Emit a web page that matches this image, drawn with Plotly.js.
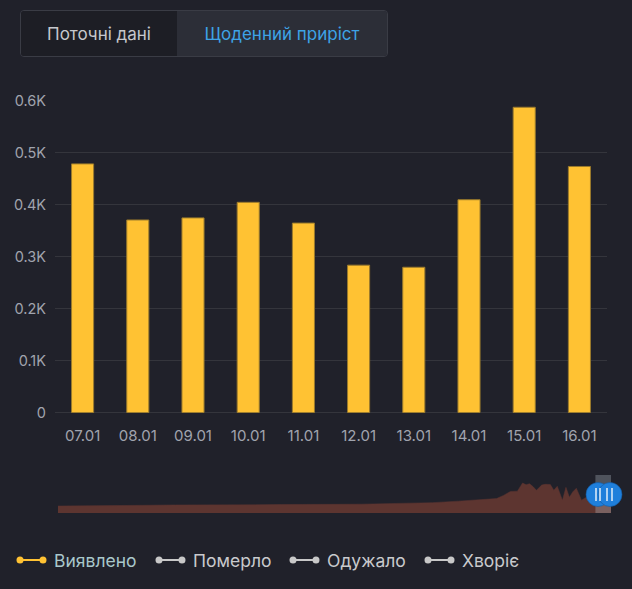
<!DOCTYPE html>
<html>
<head>
<meta charset="utf-8">
<script src="https://cdn.plot.ly/plotly-3.0.1.min.js"></script>
<style>
  html, body { margin:0; padding:0; background:#20212a; width:632px; height:589px; overflow:hidden; }
  #chart { position:absolute; left:0; top:0; width:632px; height:589px; }
  .tabs { position:absolute; left:20px; top:10px; width:366px; height:45px; border:1px solid #3a3c45; border-radius:4px; overflow:hidden; display:flex; font-family:Inter, sans-serif; font-size:17px; }
  .tab { display:flex; align-items:center; justify-content:center; height:100%; }
  .tab.cur { width:156px; background:#1d1e25; color:#c6c8cd; }
  .tab.daily { flex:1; background:#2c2e37; color:#3ea3e6; }
</style>
</head>
<body>
<div id="chart"></div>
<div class="tabs"><div class="tab cur">Поточні дані</div><div class="tab daily">Щоденний приріст</div></div>
<script>
// ---- data ----
const labels = ['07.01','08.01','09.01','10.01','11.01','12.01','13.01','14.01','15.01','16.01'];
const detected = [479, 371, 375, 405, 365, 284, 280, 410, 588, 474];
const yTickVals = [0, 100, 200, 300, 400, 500, 600];
const yTickText = ['0', '0.1K', '0.2K', '0.3K', '0.4K', '0.5K', '0.6K'];
const legendNames = ['Виявлено', 'Померло', 'Одужало', 'Хворіє'];
const year = '2021';
// overview (minimap) history before the shown window
const historyDates = ['2020-03-03','2020-03-20','2020-04-05','2020-04-25','2020-05-10','2020-05-25','2020-06-10','2020-06-25','2020-07-10','2020-07-25','2020-08-10','2020-08-25','2020-09-10','2020-09-25','2020-10-05','2020-10-20','2020-11-01','2020-11-11','2020-11-15','2020-11-19','2020-11-23','2020-11-26','2020-11-28','2020-11-30','2020-12-02','2020-12-04','2020-12-07','2020-12-09','2020-12-12','2020-12-14','2020-12-16','2020-12-19','2020-12-21','2020-12-23','2020-12-25','2020-12-27','2020-12-30','2021-01-02','2021-01-05'];
const historyValues = [0, 2, 8, 25, 35, 30, 45, 40, 50, 45, 55, 60, 85, 100, 110, 160, 200, 245, 350, 480, 490, 760, 700, 735, 640, 520, 690, 715, 710, 520, 650, 190, 615, 290, 470, 585, 190, 300, 430];

// ---- build ----
const W = 632, H = 589;
const px = x => x / W;
const py = y => 1 - y / H;
const font = 'Inter, sans-serif';
const yellow = '#ffc233';
const fillBrown = '#5d3530';

const windowDates = labels.map(l => year + '-' + l.slice(3, 5) + '-' + l.slice(0, 2));
const ovX = historyDates.concat(windowDates);
const ovY = historyValues.concat(detected);

const traces = [
  {
    type: 'bar', x: labels, y: detected, name: legendNames[0],
    marker: { color: yellow, line: { color: '#9a7a2c', width: 1 } },
    width: 0.4, xaxis: 'x', yaxis: 'y', showlegend: false, hoverinfo: 'none'
  },
  {
    type: 'scatter', mode: 'lines', x: ovX, y: ovY, fill: 'tozeroy',
    fillcolor: fillBrown, line: { color: fillBrown, width: 0.5 },
    xaxis: 'x2', yaxis: 'y2', showlegend: false, hoverinfo: 'none'
  }
];

const shapes = [
  // base band of the overview
  { type: 'rect', xref: 'x2', yref: 'y2', x0: ovX[0], x1: ovX[ovX.length - 1], y0: -231, y1: 0, fillcolor: fillBrown, line: { width: 0 }, layer: 'below' },
  // selection window
  { type: 'rect', xref: 'x2', yref: 'paper', x0: windowDates[0], x1: windowDates[windowDates.length - 1], y0: py(513), y1: py(475), fillcolor: 'rgba(190,200,210,0.3)', line: { width: 0 } }
];
// handles (paper coordinates so they are not clipped)
[598, 610].forEach(cx => {
  shapes.push({ type: 'circle', xref: 'paper', yref: 'paper', x0: px(cx - 12), x1: px(cx + 12), y0: py(506.5), y1: py(482.5), fillcolor: '#1f7fdb', line: { color: 'rgba(20,90,160,0.6)', width: 1 } });
});
[596, 600, 607, 612].forEach(mx => {
  shapes.push({ type: 'line', xref: 'paper', yref: 'paper', x0: px(mx), x1: px(mx), y0: py(501), y1: py(488), line: { color: 'rgba(255,255,255,0.65)', width: 2 } });
});

// custom legend
const legendItems = [
  { lx: 17, tx: 52, color: yellow, text: '#a9c8cb' },
  { lx: 156, tx: 191, color: '#c8c8c8', text: '#c9cacd' },
  { lx: 290, tx: 325, color: '#c8c8c8', text: '#c9cacd' },
  { lx: 425, tx: 460, color: '#c8c8c8', text: '#c9cacd' }
];
const annotations = [];
const legY = 560;
legendItems.forEach((it, i) => {
  shapes.push({ type: 'line', xref: 'paper', yref: 'paper', x0: px(it.lx + 3), x1: px(it.lx + 26), y0: py(legY), y1: py(legY), line: { color: it.color, width: 2 } });
  [it.lx + 3, it.lx + 26].forEach(cx => {
    shapes.push({ type: 'circle', xref: 'paper', yref: 'paper', x0: px(cx - 3.5), x1: px(cx + 3.5), y0: py(legY + 3.5), y1: py(legY - 3.5), fillcolor: it.color, line: { width: 0 } });
  });
  annotations.push({ xref: 'paper', yref: 'paper', x: px(it.tx), y: py(legY), xanchor: 'left', yanchor: 'middle', text: legendNames[i], showarrow: false, font: { family: font, size: 17.5, color: it.text } });
});

const layout = {
  width: W, height: H,
  margin: { l: 0, r: 0, t: 0, b: 0 },
  paper_bgcolor: '#20212a', plot_bgcolor: '#20212a',
  font: { family: font, color: '#a0a4ae' },
  bargap: 0.6,
  xaxis: {
    domain: [px(55), px(607)], type: 'category', showgrid: false, zeroline: false,
    showline: false, ticks: '', tickfont: { size: 15, color: '#a0a4ae' }, ticklabelstandoff: 12,
    fixedrange: true, anchor: 'y'
  },
  yaxis: {
    domain: [py(412.7), py(100.5)], range: [0, 601], tickvals: yTickVals, ticktext: yTickText,
    showgrid: true, gridcolor: '#34353c', gridwidth: 1, zeroline: true, zerolinecolor: '#34353c', zerolinewidth: 1,
    showline: false, ticks: '', tickfont: { size: 14.5, color: '#a0a4ae' }, ticklabelstandoff: 8,
    fixedrange: true, anchor: 'x'
  },
  xaxis2: {
    domain: [px(58), px(611)], type: 'date', range: [ovX[0], ovX[ovX.length - 1]],
    visible: false, anchor: 'y2', fixedrange: true
  },
  yaxis2: {
    domain: [py(513), py(475)], range: [-231, 1023], visible: false, anchor: 'x2', fixedrange: true
  },
  shapes: shapes,
  annotations: annotations,
  showlegend: false
};

Plotly.newPlot('chart', traces, layout, { displayModeBar: false, staticPlot: true });
</script>
</body>
</html>
